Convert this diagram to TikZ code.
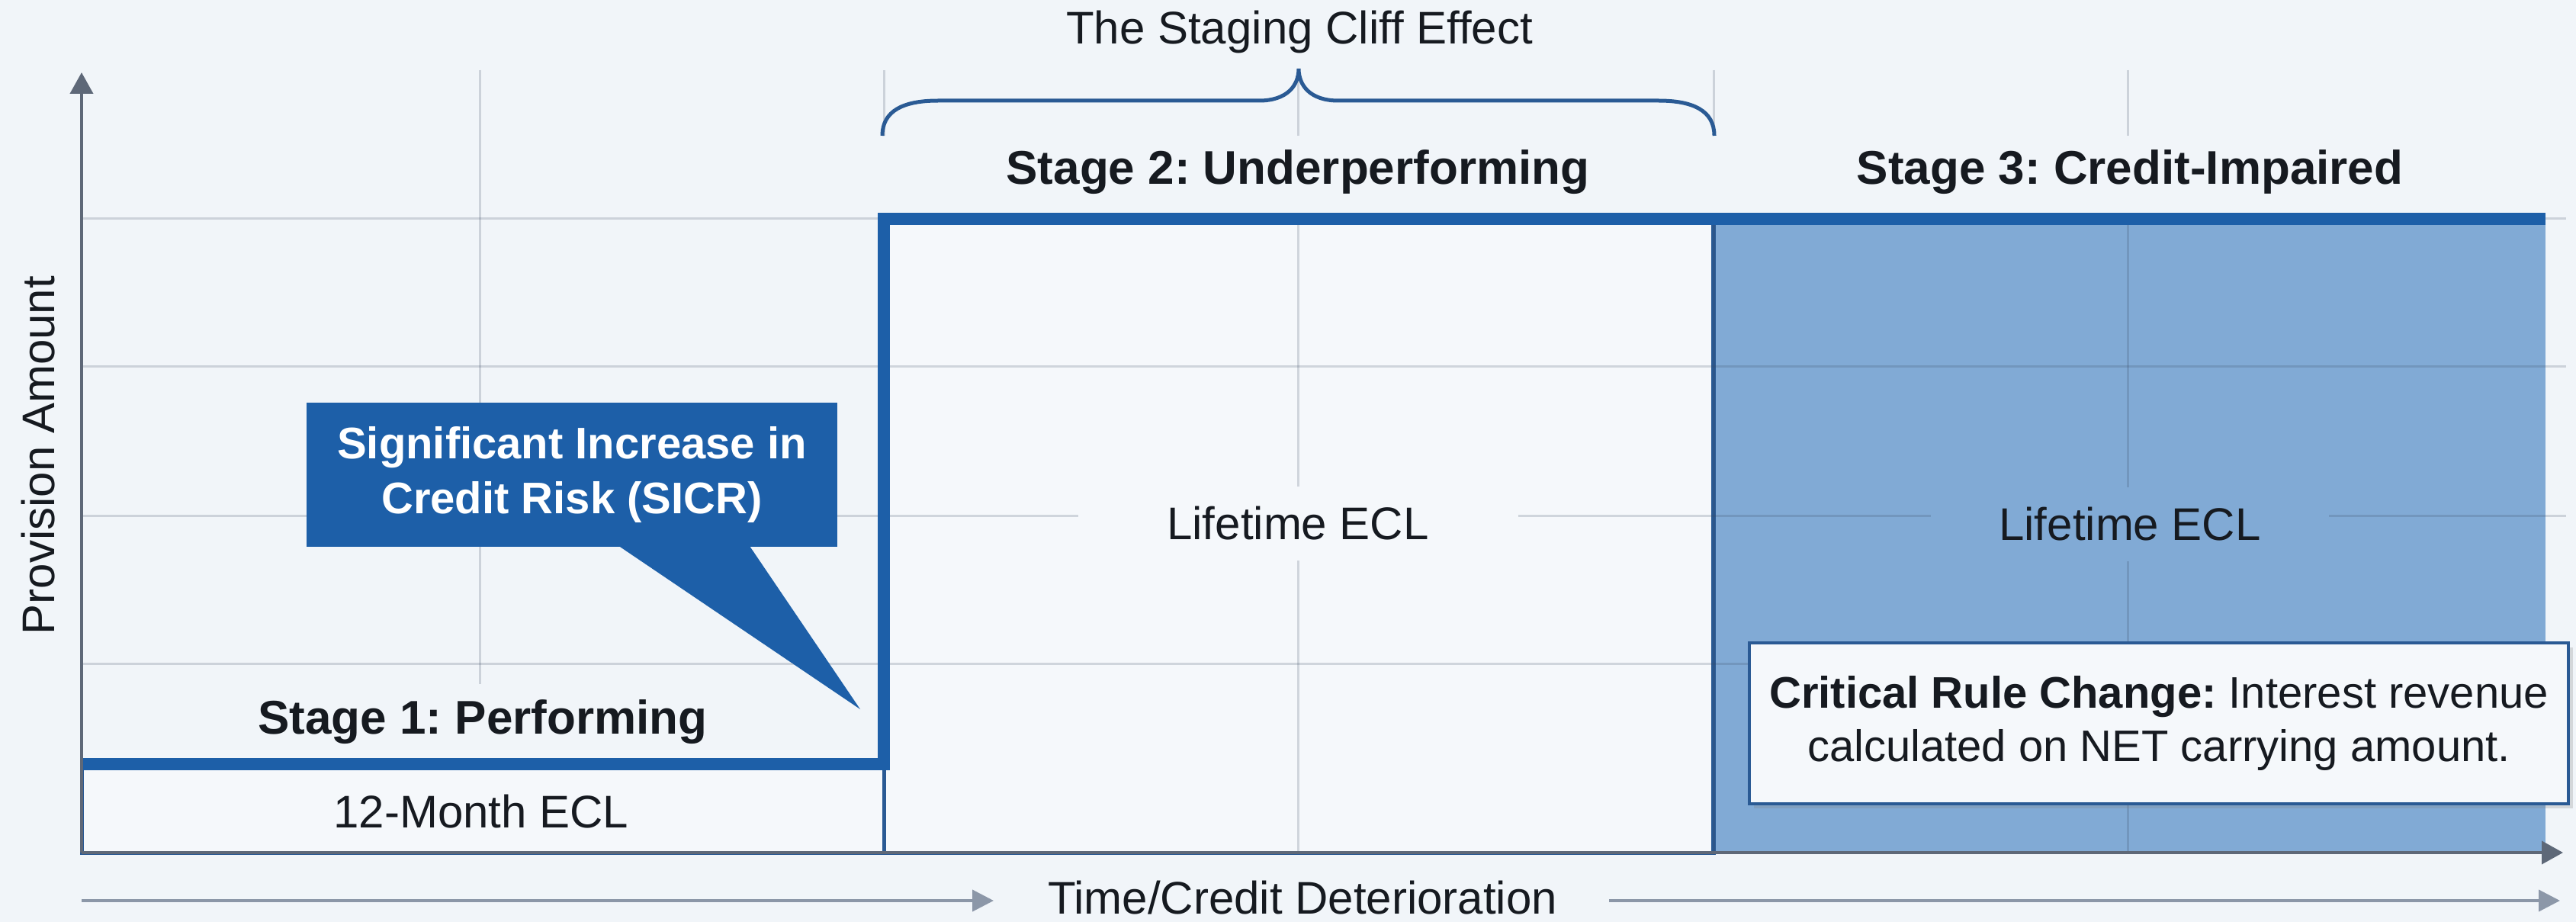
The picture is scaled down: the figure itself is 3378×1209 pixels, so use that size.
\documentclass[tikz,border=0pt]{standalone}
\usepackage{fontspec}
\setmainfont{Liberation Sans}
\usetikzlibrary{arrows.meta,shadows,calc}
\frenchspacing

\definecolor{bgc}{HTML}{F1F5F9}
\definecolor{panelc}{HTML}{F5F8FB}
\definecolor{gridink}{HTML}{3A4A60}
\definecolor{axisc}{HTML}{5E6878}
\definecolor{stepblue}{HTML}{1D5FA8}
\definecolor{impfill}{HTML}{81AAD5}
\definecolor{edgeblue}{HTML}{2A5A94}
\definecolor{lowarrowc}{HTML}{8C97A8}
\definecolor{inkc}{HTML}{161A20}

\begin{document}
\begin{tikzpicture}[x=0.5pt,y=-0.5pt,
  gridline/.style={draw=gridink, draw opacity=0.2, line width=1.5pt},
  lbl/.style={font=\fontsize{30}{36}\selectfont, text=inkc, inner sep=0pt},
  stagelbl/.style={font=\fontsize{31}{37}\selectfont\bfseries, text=inkc, inner sep=0pt},
  stepline/.style={draw=stepblue, line width=8pt, line join=miter},
  thinedge/.style={draw=edgeblue, line width=2.5pt},
  axisline/.style={draw=axisc, line width=2pt, -{Triangle[width=15pt,length=14pt]}},
  lowarrow/.style={draw=lowarrowc, line width=2pt, -{Triangle[width=14pt,length=14pt]}},
  bracestyle/.style={draw=edgeblue, line width=2.5pt},
  calloutbox/.style={fill=stepblue, text=white, align=center,
    font=\fontsize{29}{36}\selectfont\bfseries,
    minimum width=348pt, minimum height=94.5pt, inner sep=0pt},
  critbox/.style={fill=panelc, draw=edgeblue, line width=2pt, align=center,
    text=inkc, font=\fontsize{29}{35}\selectfont,
    minimum width=537pt, minimum height=105.5pt, inner sep=0pt,
    drop shadow={shadow xshift=3pt, shadow yshift=-3pt, opacity=0.25}}
]
% canvas
\fill[bgc] (0,0) rectangle (3378,1209);
\useasboundingbox (0,0) rectangle (3378,1209);

% key points
\coordinate (O) at (107,1118);
\coordinate (Ytop) at (107,95);
\coordinate (Xend) at (3361,1118);
\coordinate (s1a) at (107,1002);
\coordinate (s1b) at (1159,1002);
\coordinate (s2a) at (1159,287);
\coordinate (s3b) at (3338,287);

% stage regions
\path[fill=panelc, thinedge] (1159,287) rectangle (2247,1118);
\fill[impfill] (2247,287) rectangle (3338,1118);
\draw[edgeblue, line width=3pt] (2247,287) -- (2247,1118);

% grid
\draw[gridline] (629,92) -- (629,1118);
\foreach \gx in {1159,1702,2247,2790} {
  \draw[gridline] (\gx,92) -- (\gx,178);
  \draw[gridline] (\gx,287) -- (\gx,1118);
}
\foreach \gy in {287,480,676,870}
  \draw[gridline] (107,\gy) -- (3365,\gy);

% stage 1 floor band
\path[fill=panelc, thinedge] (107,1002) rectangle (1159,1118);

% region labels
\node[lbl] (title) at (1704,42) {The Staging Cliff Effect};
\node[stagelbl] (s2lab) at (1702,226) {Stage 2: Underperforming};
\node[stagelbl] (s3lab) at (2793,226) {Stage 3: Credit-Impaired};
\node[stagelbl, fill=bgc, minimum height=50pt] (s1lab) at (633,947) {Stage 1: Performing};
\node[lbl] (ecl12) at (631,1064) {12-Month ECL};
\node[lbl, fill=panelc, minimum width=288.5pt, minimum height=48.5pt] (life2) at (1702,686) {Lifetime ECL};
\node[lbl, fill=impfill, minimum width=261pt, minimum height=48.5pt] (life3) at (2793,687) {Lifetime ECL};

% provision step line
\draw[stepline] (s1a) -- (s1b) -- (s2a) -- (s3b);

% axes
\draw[axisline] (O) -- (Ytop);
\draw[axisline] (O) -- (Xend);
\node[lbl, rotate=90] (ylab) at (50,597) {Provision Amount};

% time arrows under the axis
\node[lbl, anchor=base] (xlab) at (1708,1198) {Time/Credit Deterioration};
\coordinate (la0) at (107,1181);
\coordinate (la1) at (1303,1181);
\coordinate (ra0) at (2110,1181);
\coordinate (ra1) at (3357,1181);
\draw[lowarrow] (la0) -- (la1);
\draw[lowarrow] (ra0) -- (ra1);

% brace over stage 2
\coordinate (bl) at (1157,178);
\coordinate (btip) at (1703,90);
\coordinate (br) at (2248,178);
\draw[bracestyle] (bl) .. controls (1157,145) and (1185,132) .. (1230,132)
  -- (1651,132) .. controls (1688,132) and (1703,112) .. (btip)
  .. controls (1703,112) and (1718,132) .. (1755,132)
  -- (2175,132) .. controls (2220,132) and (2248,145) .. (br);

% SICR callout
\node[calloutbox] (sicr) at (750,622.5) {Significant Increase in\\Credit Risk (SICR)};
\coordinate (sicrtip) at (1128,930);
\fill[stepblue] ($(sicr.south west)+(409,-2)$) -- (sicrtip) -- ($(sicr.south west)+(581,-2)$) -- cycle;

% stage 3 note
\node[critbox] (crit) at (2831,948.5) {\textbf{Critical Rule Change:} Interest revenue\\calculated on NET carrying amount.};
\end{tikzpicture}
\end{document}
